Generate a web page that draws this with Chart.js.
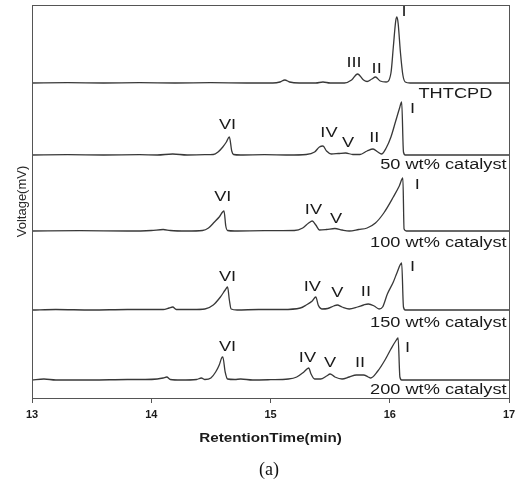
<!DOCTYPE html>
<html lang="en">
<head>
<meta charset="UTF-8">
<title>Chromatograms</title>
<script src="https://cdn.jsdelivr.net/npm/chart.js"></script>
<style>
  body { margin: 0; background: #fff; }
  canvas { display: block; }
</style>
</head>
<body>
<canvas id="gc" width="523" height="481"></canvas>
<script>
// retention time (min) and signal above each trace's own baseline
const thtcpdTime = [13.00,13.30,13.60,13.90,14.20,14.50,14.80,15.02,15.08,15.12,15.16,15.24,15.38,15.44,15.50,15.62,15.68,15.73,15.78,15.81,15.85,15.88,15.92,15.97,16.01,16.03,16.05,16.06,16.07,16.09,16.11,16.13,16.17,16.40,16.70,17.00];
const thtcpdSignal = [0,0.3,0,0.3,0,0.3,0,0,1,3,1,0,0,1,0,0,3,9,3,1.5,4,6,2,1,10,36,62,66,60,30,8,1,0,0,0,0];

const cat50Time = [13.00,13.30,13.60,13.90,14.05,14.18,14.30,14.45,14.52,14.56,14.60,14.63,14.655,14.675,14.69,14.75,14.95,15.15,15.30,15.37,15.41,15.44,15.47,15.51,15.57,15.63,15.69,15.75,15.81,15.86,15.90,15.93,15.97,16.01,16.05,16.08,16.10,16.115,16.13,16.40,16.70,17.00];
const cat50Signal = [0,0.3,0,0.3,0,1,0,0.3,0.5,3,8,13,18,4,0.5,0,0.3,0,0.5,3,8,9,4,1,1.5,2,0.5,0.5,4,6,3,1,7,18,34,46,53,3,0,0,0,0];

const cat100Time = [13.00,13.40,13.80,14.00,14.10,14.16,14.30,14.43,14.48,14.53,14.57,14.61,14.625,14.64,14.70,14.95,15.20,15.27,15.32,15.35,15.38,15.41,15.47,15.54,15.60,15.66,15.74,15.81,15.88,15.95,16.03,16.08,16.11,16.12,16.14,16.50,17.00];
const cat100Signal = [0,0.3,0,0.5,1.5,0.5,0,0.5,3,9,14,20,5,0.5,0,0.3,0.5,3,8,10,6,1,1.5,2.5,1,0,1.5,3,8,18,34,45,53,2,0,0,0];

const cat150Time = [13.00,13.20,13.50,13.80,14.10,14.15,14.18,14.21,14.35,14.45,14.52,14.58,14.62,14.64,14.655,14.67,14.72,14.90,15.10,15.25,15.30,15.35,15.38,15.40,15.43,15.48,15.53,15.56,15.60,15.66,15.73,15.78,15.82,15.87,15.91,15.94,15.98,16.03,16.06,16.10,16.115,16.13,16.50,17.00];
const cat150Signal = [0,0.5,0,0.5,0.5,2,3,0.5,0.5,1,5,13,20,23,10,1,0,0.5,0.5,2,5,9,13,5,1,1.5,4,5,3,1,3,5,6,4,1,3,16,28,37,47,3,0,0,0];

const cat200Time = [13.00,13.10,13.20,13.50,13.80,13.95,14.05,14.10,14.13,14.16,14.25,14.38,14.42,14.45,14.50,14.54,14.57,14.59,14.60,14.62,14.64,14.70,14.75,14.85,15.00,15.15,15.22,15.28,15.32,15.34,15.37,15.42,15.47,15.50,15.54,15.60,15.66,15.72,15.78,15.82,15.84,15.90,15.96,16.01,16.05,16.07,16.085,16.10,16.50,17.00];
const cat200Signal = [0,1,0,0,0.5,0.5,1,2,3,0.5,0,0.5,2,0.5,2,8,15,22,23,8,1,0.5,1,0,0.3,1,3,8,12,6,1,1,4,6,3,1,3,5,5,3,2,9,20,31,39,42,3,0,0,0];

const sampleNames = ['THTCPD', '50 wt% catalyst', '100 wt% catalyst', '150 wt% catalyst', '200 wt% catalyst'];
const traceOffsets = [315, 243, 167, 88, 18];   // stacking of the traces
const nameEndTime = [16.86, 16.98, 16.98, 16.98, 16.98];
const nameHeight = [-11, -10, -12, -13, -10];

const peakNames = [
  ['I', 'III', 'II'],
  ['VI', 'IV', 'V', 'II', 'I'],
  ['VI', 'IV', 'V', 'I'],
  ['VI', 'IV', 'V', 'II', 'I'],
  ['VI', 'IV', 'V', 'II', 'I']
];
const peakLabelTime = [
  [16.12, 15.70, 15.89],
  [14.64, 15.49, 15.65, 15.87, 16.19],
  [14.60, 15.36, 15.55, 16.23],
  [14.64, 15.35, 15.56, 15.80, 16.19],
  [14.64, 15.31, 15.50, 15.75, 16.15]
];
const peakLabelHeight = [
  [71, 20, 14],
  [30, 22, 12, 17, 46],
  [34, 21, 12, 46],
  [33, 23, 17, 18, 43],
  [33, 22, 17, 17, 32]
];

const xTicks = [13, 14, 15, 16, 17];

const traceTimes = [thtcpdTime, cat50Time, cat100Time, cat150Time, cat200Time];
const traceSignals = [thtcpdSignal, cat50Signal, cat100Signal, cat150Signal, cat200Signal];

const datasets = traceTimes.map((times, i) => ({
  label: sampleNames[i],
  data: times.map((t, j) => ({ x: t, y: traceSignals[i][j] + traceOffsets[i] })),
  borderColor: '#383838',
  borderWidth: 1.3,
  pointRadius: 0,
  fill: false,
  cubicInterpolationMode: 'monotone'
}));

function stretchText(ctx, text, x, y, align, sx) {
  ctx.save();
  ctx.translate(x, y);
  ctx.scale(sx, 1);
  ctx.textAlign = align;
  ctx.textBaseline = 'middle';
  ctx.fillText(text, 0, 0);
  ctx.restore();
}

const decorations = {
  id: 'decorations',
  afterDraw(chart) {
    const ctx = chart.ctx;
    const area = chart.chartArea;
    const xs = chart.scales.x;
    const ys = chart.scales.y;

    ctx.save();
    ctx.strokeStyle = '#555';
    ctx.lineWidth = 1;
    ctx.strokeRect(Math.round(area.left) + 0.5, Math.round(area.top) + 0.5,
      Math.round(area.right - area.left), Math.round(area.bottom - area.top));

    ctx.fillStyle = '#1a1a1a';
    ctx.font = '14px "Liberation Sans", Arial, sans-serif';
    peakNames.forEach((names, i) => {
      names.forEach((name, j) => {
        const x = xs.getPixelForValue(peakLabelTime[i][j]);
        const y = ys.getPixelForValue(traceOffsets[i] + peakLabelHeight[i][j]);
        stretchText(ctx, name, x, y, 'center', 1.3);
      });
    });

    sampleNames.forEach((name, i) => {
      const x = xs.getPixelForValue(nameEndTime[i]);
      const y = ys.getPixelForValue(traceOffsets[i] + nameHeight[i]);
      stretchText(ctx, name, x, y, 'right', 1.3);
    });

    ctx.font = 'bold 13px "Liberation Sans", Arial, sans-serif';
    stretchText(ctx, 'RetentionTime(min)', (area.left + area.right) / 2, 438, 'center', 1.17);

    ctx.save();
    ctx.translate(22, (area.top + area.bottom) / 2);
    ctx.rotate(-Math.PI / 2);
    ctx.font = '13px "Liberation Sans", Arial, sans-serif';
    ctx.fillStyle = '#2a2a2a';
    ctx.textAlign = 'center';
    ctx.textBaseline = 'middle';
    ctx.fillText('Voltage(mV)', 0, 0);
    ctx.restore();

    ctx.font = '18px "Liberation Serif", "Times New Roman", serif';
    ctx.fillStyle = '#111';
    stretchText(ctx, '(a)', 269, 470, 'center', 1.0);
    ctx.restore();
  }
};

new Chart(document.getElementById('gc'), {
  type: 'line',
  data: { datasets: datasets },
  options: {
    responsive: false,
    animation: false,
    devicePixelRatio: 1,
    layout: { padding: { left: 32, right: 14, top: 5, bottom: 0 } },
    plugins: { legend: { display: false }, tooltip: { enabled: false } },
    scales: {
      x: {
        type: 'linear',
        min: 13,
        max: 17,
        afterFit: s => { s.height = 83; },
        afterBuildTicks: s => { s.ticks = xTicks.map(v => ({ value: v })); },
        ticks: {
          color: '#1a1a1a',
          padding: 5,
          maxRotation: 0,
          font: { family: '"Liberation Sans", Arial, sans-serif', size: 11, weight: 'bold' },
          callback: v => String(v)
        },
        grid: { drawOnChartArea: false, drawTicks: true, tickLength: 5, color: '#555' },
        border: { display: true, color: '#555' }
      },
      y: {
        display: false,
        min: 0,
        max: 393
      }
    }
  },
  plugins: [decorations]
});
</script>
</body>
</html>
